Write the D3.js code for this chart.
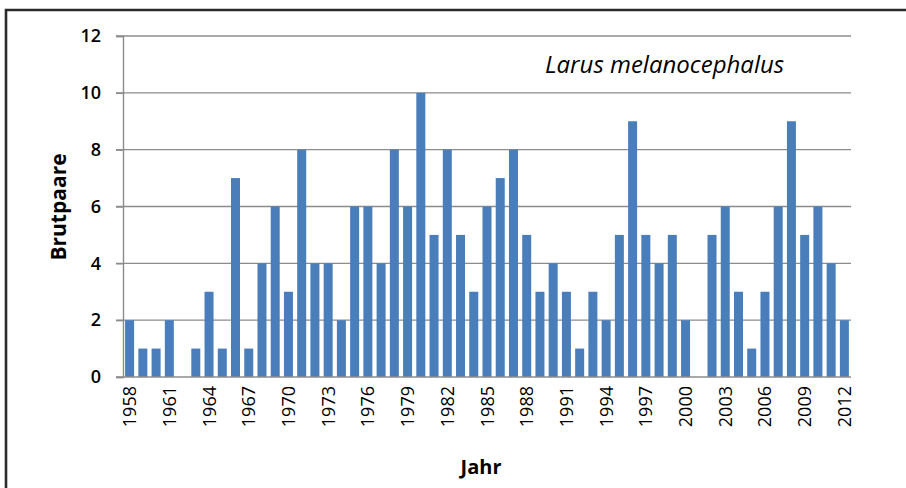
<!DOCTYPE html>
<html>
<head>
<meta charset="utf-8">
<script src="https://cdn.jsdelivr.net/npm/d3@7"></script>
<style>
  html, body { margin: 0; padding: 0; background: #fff; }
  svg { display: block; }
  text { font-family: "Open Sans", "Liberation Sans", sans-serif; fill: #000; }
</style>
</head>
<body>
<svg id="chart" width="906" height="488"></svg>
<script>
// Breeding pairs of the Mediterranean gull per year
const years = d3.range(1958, 2013);
const pairs = [
  2, 1, 1, 2, 0, 1, 3, 1, 7, 1,   // 1958-1967
  4, 6, 3, 8, 4, 4, 2, 6, 6, 4,   // 1968-1977
  8, 6, 10, 5, 8, 5, 3, 6, 7, 8,  // 1978-1987
  5, 3, 4, 3, 1, 3, 2, 5, 9, 5,   // 1988-1997
  4, 5, 2, 0, 5, 6, 3, 1, 3, 6,   // 1998-2007
  9, 5, 6, 4, 2                   // 2008-2012
];
const yTicks = [0, 2, 4, 6, 8, 10, 12];
const xTickYears = d3.range(1958, 2013, 3);

const svg = d3.select("#chart");
const plotLeft = 123, plotRight = 851, plotTop = 36, plotBottom = 377;

const x = d3.scaleBand().domain(years).range([plotLeft, plotRight]).paddingInner(0.32).paddingOuter(0.16);
const y = d3.scaleLinear().domain([0, 12]).range([plotBottom, plotTop]);

// outer frame
svg.append("path")
  .attr("d", `M6,488 V10 H906`)
  .attr("fill", "none").attr("stroke", "#2b2b2b").attr("stroke-width", 2.6);

// horizontal gridlines
svg.append("g").selectAll("line").data(yTicks.filter(d => d > 0)).join("line")
  .attr("x1", plotLeft - 7).attr("x2", plotRight)
  .attr("y1", d => y(d)).attr("y2", d => y(d))
  .attr("stroke", "#8c8c8c").attr("stroke-width", 1.4);

// bars
svg.append("g").selectAll("rect").data(years).join("rect")
  .attr("x", d => x(d))
  .attr("width", x.bandwidth())
  .attr("y", (d, i) => y(pairs[i]))
  .attr("height", (d, i) => y(0) - y(pairs[i]))
  .attr("fill", "#4a7ebb");

// y axis
const yAxis = svg.append("g").attr("transform", `translate(${plotLeft},0)`)
  .call(d3.axisLeft(y).tickValues(yTicks).tickSize(7).tickPadding(15));
yAxis.select(".domain").attr("stroke", "#8c8c8c").attr("stroke-width", 1.4);
yAxis.selectAll(".tick line").attr("stroke", "#8c8c8c").attr("stroke-width", 1.4);
yAxis.selectAll(".tick text")
  .style("font-size", "18px").style("font-weight", "600").attr("fill", "#1a1a1a");

// x axis baseline
svg.append("line")
  .attr("x1", plotLeft - 7).attr("x2", plotRight)
  .attr("y1", plotBottom).attr("y2", plotBottom)
  .attr("stroke", "#8c8c8c").attr("stroke-width", 1.4);

// x tick labels, rotated
svg.append("g").selectAll("text").data(xTickYears).join("text")
  .attr("transform", d => `translate(${x(d) + x.bandwidth() / 2 + 6.5},${plotBottom + 9}) rotate(-90)`)
  .attr("text-anchor", "end")
  .style("font-size", "18px").style("font-weight", "500")
  .attr("fill", "#1a1a1a")
  .text(d => d);

// axis titles
svg.append("text")
  .attr("transform", `translate(66,207) rotate(-90)`)
  .attr("text-anchor", "middle")
  .style("font-size", "21px").style("font-weight", "700")
  .text("Brutpaare");

svg.append("text")
  .attr("x", 481).attr("y", 474)
  .attr("text-anchor", "middle")
  .style("font-size", "20px").style("font-weight", "700")
  .text("Jahr");

// species name
svg.append("text")
  .attr("x", 545).attr("y", 73)
  .style("font-size", "24px").style("font-style", "italic")
  .attr("fill", "#111")
  .text("Larus melanocephalus");
</script>
</body>
</html>
